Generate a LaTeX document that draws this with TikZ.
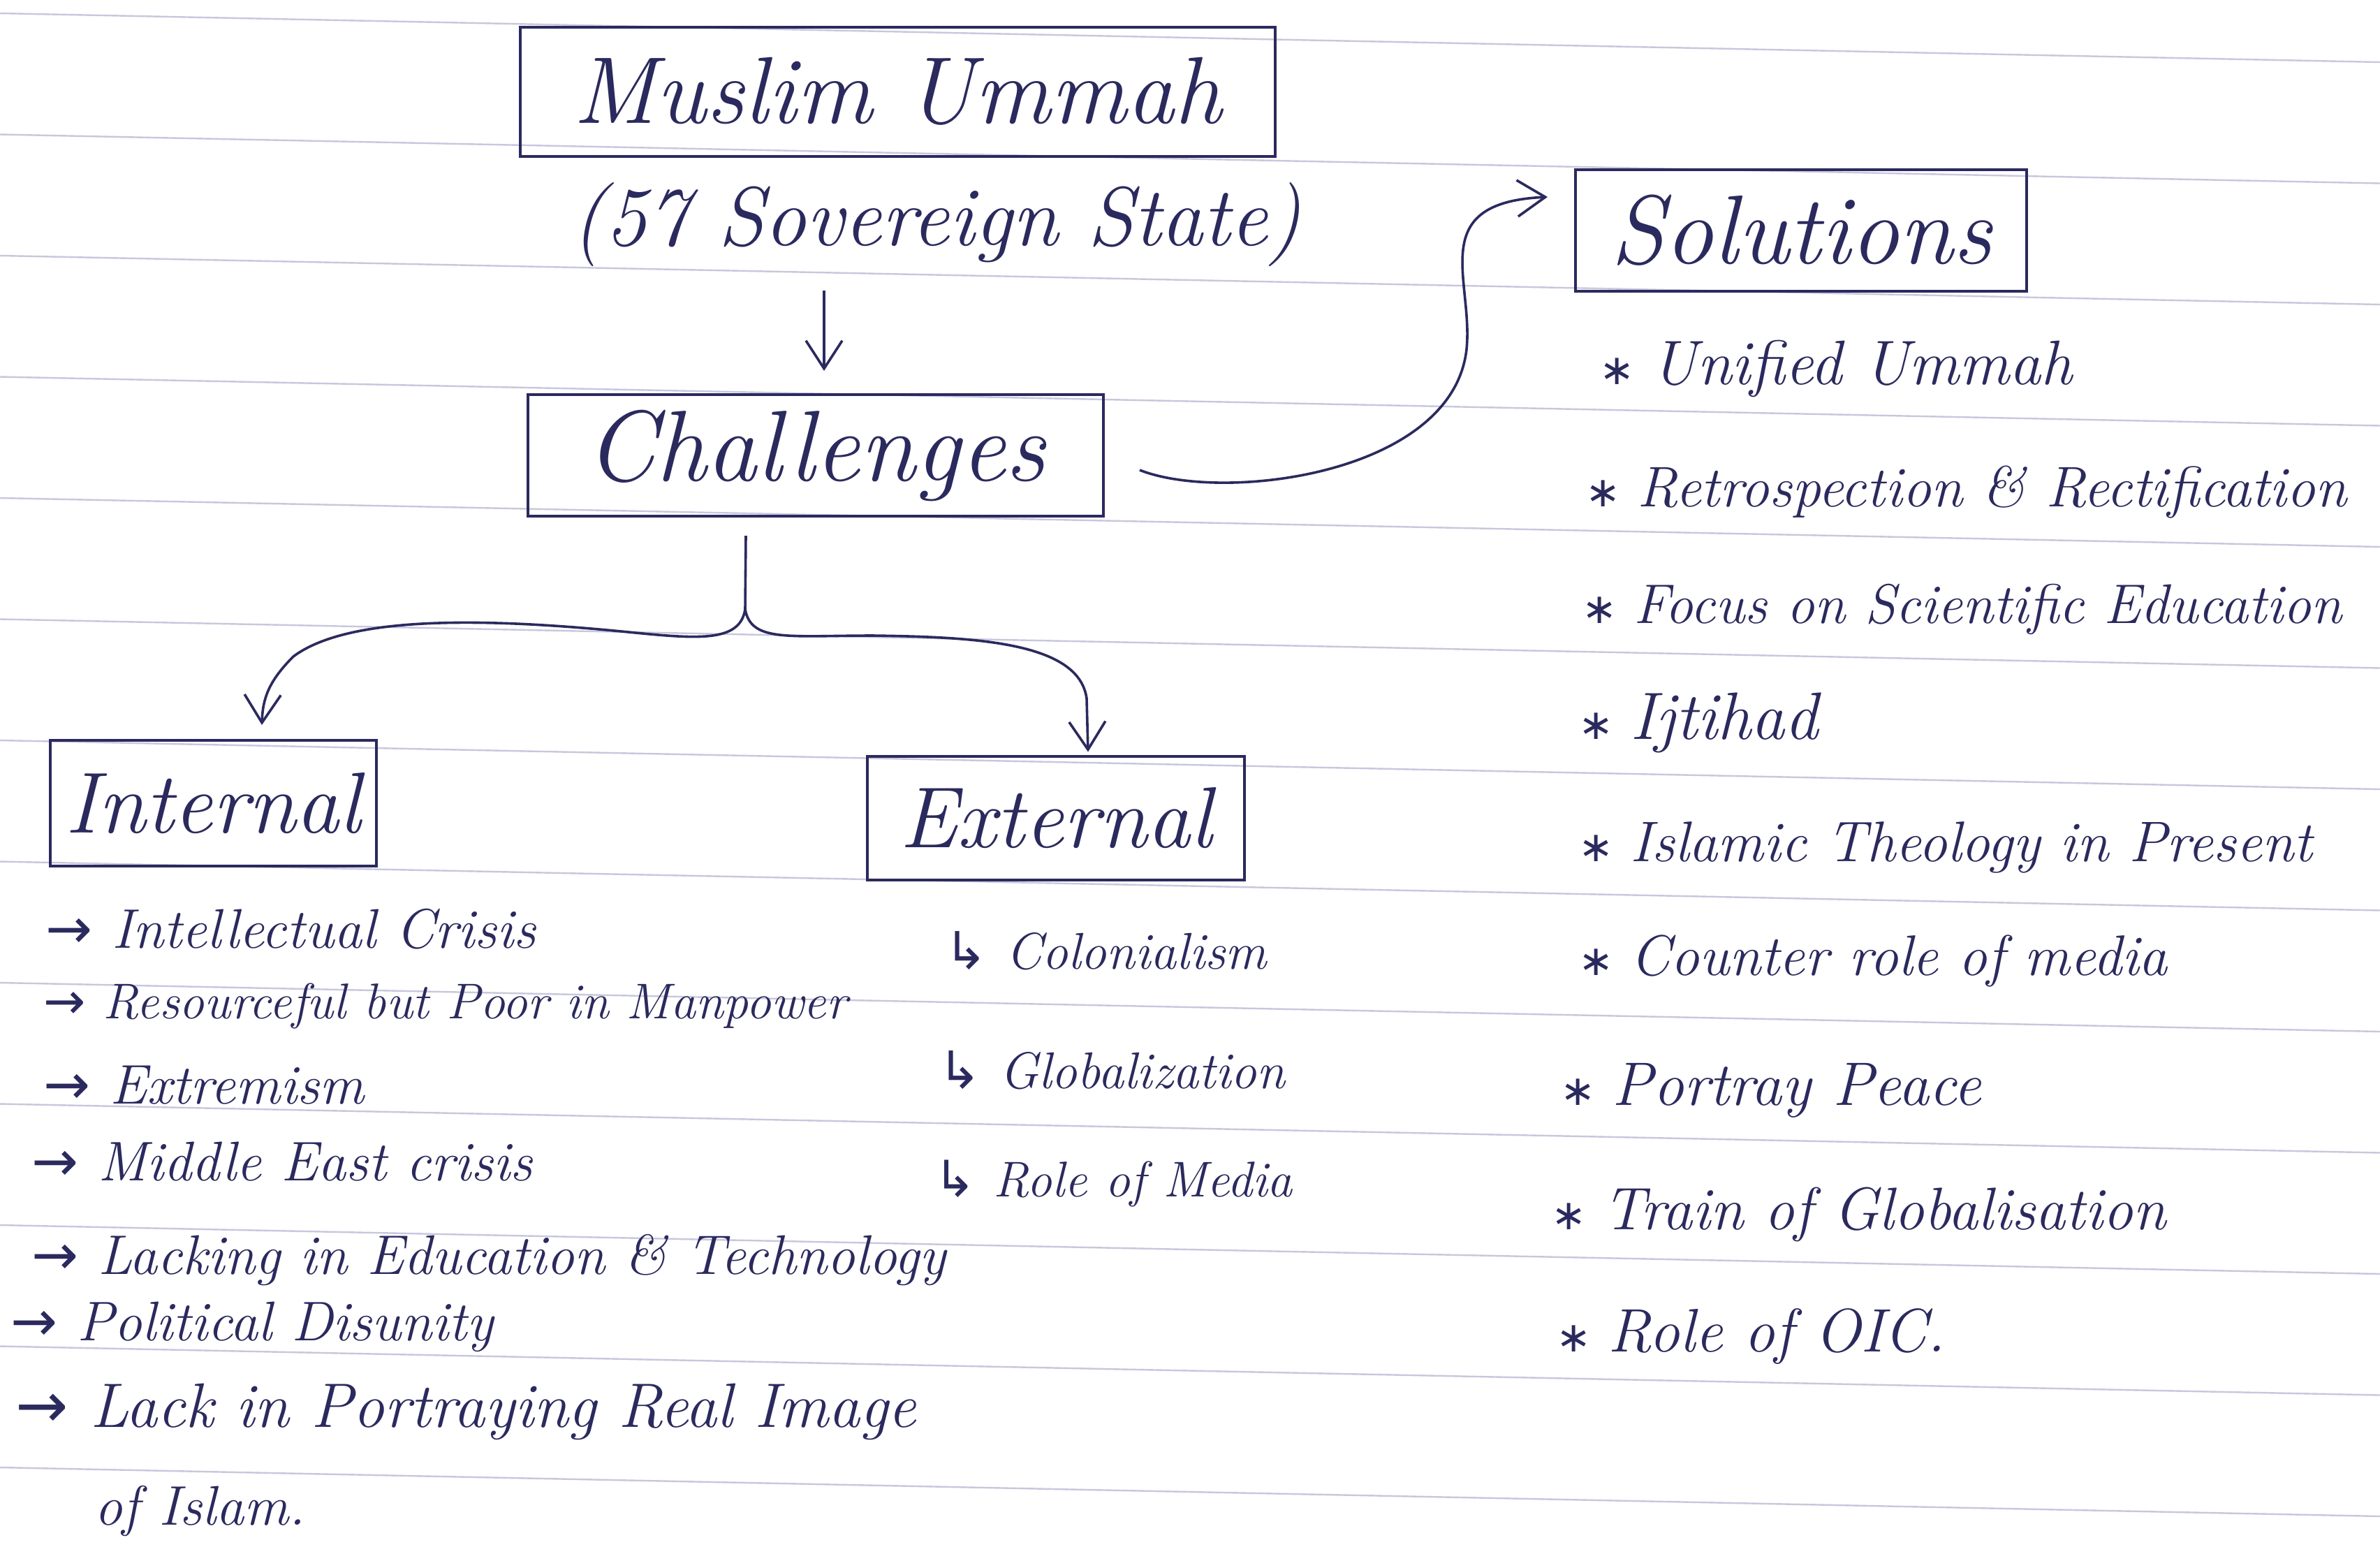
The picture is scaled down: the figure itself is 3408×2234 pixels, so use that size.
\documentclass[tikz,border=0pt]{standalone}
\usepackage{fontspec}
\setmainfont{Latin Modern Roman}
\newfontfamily\symfont{DejaVu Sans}
\usetikzlibrary{arrows.meta}
\definecolor{ink}{HTML}{2B2A5E}
\definecolor{ruling}{HTML}{C9C7DE}
\newcommand{\fsz}[1]{\fontsize{#1}{#1}\selectfont}
\newcommand{\sbul}{{\symfont\fsz{30}∗}\hspace{12pt}}
\begin{document}
\begin{tikzpicture}[x=0.5pt,y=-0.5pt,
  every node/.style={text=ink, inner sep=0pt},
  box/.style={draw=ink, line width=2pt, inner sep=0pt},
  arr/.style={draw=ink, line width=1.8pt, -{Straight Barb[length=20pt,width=26pt,line width=1.8pt]}},
  ink line/.style={draw=ink, line width=1.8pt},
  initem/.style={anchor=west, font=\itshape\fsz{40}},
  exitem/.style={anchor=west, font=\itshape\fsz{37}},
  soitem/.style={anchor=west, font=\itshape\fsz{41}}
]
\useasboundingbox (0,0) rectangle (3408,2234);
\fill[white] (0,0) rectangle (3408,2234);
% ruled notebook lines
\foreach \k in {0,...,12}{
  \draw[ruling, line width=1.2pt] (0,{19+173.5*\k}) -- (3408,{89+173.5*\k});
}
% main boxes
\node[box, minimum width=540.5pt, minimum height=92.5pt, font=\itshape\fsz{68}] (mu) at (1285,131) {Muslim Ummah};
\node[font=\itshape\fsz{60}] (sub) at (1341,322) {(57 Sovereign State)};
\node[box, minimum width=412pt, minimum height=87pt, font=\itshape\fsz{72}] (chal) at (1168,652) {Challenges};
\node[box, minimum width=323pt, minimum height=87pt, font=\itshape\fsz{70}] (sol) at (2579,330) {Solutions};
\node[box, minimum width=233.5pt, minimum height=90pt, font=\itshape\fsz{62}] (int) at (305,1150) {Internal};
\node[box, minimum width=270pt, minimum height=88.5pt, font=\itshape\fsz{62}] (ext) at (1512,1171) {External};
% connectors
\draw[arr, shorten <=17pt, shorten >=16pt] ([xshift=6pt]chal.north |- sub.south) -- ([xshift=6pt]chal.north);
\coordinate (j) at (1067,872);
\draw[ink line] ([xshift=-50pt,yshift=-13pt]chal.south) -- (j);
\draw[arr] (j) .. controls (1060,920) and (1000,915) .. (900,905)
  .. controls (700,885) and (500,880) .. (420,940)
  .. controls (385,975) and (376,1000) .. ([xshift=35pt,yshift=10pt]int.north);
\draw[arr] (j) .. controls (1075,920) and (1130,910) .. (1250,910)
  .. controls (1400,912) and (1545,920) .. (1556,1000)
  -- ([xshift=23pt,yshift=2pt]ext.north);
\draw[arr] ([xshift=25pt,yshift=-10.5pt]chal.east) .. controls (1750,720) and (2080,680) .. (2100,500)
  .. controls (2110,400) and (2040,290) .. ([xshift=-19pt,yshift=24pt]sol.west);
% internal items
\node[initem] (i1) at (65,1330) {{\symfont →}~Intellectual Crisis};
\node[initem, font=\itshape\fsz{36}] (i2) at (62,1440) {{\symfont →}~Resourceful but Poor in Manpower};
\node[initem] (i3) at (62,1554) {{\symfont →}~Extremism};
\node[initem] (i4) at (45,1663) {{\symfont →}~Middle East crisis};
\node[initem] (i5) at (45,1804) {{\symfont →}~Lacking in Education \& Technology};
\node[initem] (i6) at (15,1900) {{\symfont →}~Political Disunity};
\node[initem, font=\itshape\fsz{45}] (i7) at (22,2021) {{\symfont →}~Lack in Portraying Real Image};
\node[initem] (i8) at (135,2163) {of Islam.};
% external items
\node[exitem] (e1) at (1352,1361) {{\symfont ↳}~Colonialism};
\node[exitem] (e2) at (1343,1532) {{\symfont ↳}~Globalization};
\node[exitem, font=\itshape\fsz{36}] (e3) at (1337,1695) {{\symfont ↳}~Role of Media};
% solutions
\node[soitem, font=\itshape\fsz{45}] (s1) at (2290,528) {\sbul Unified Ummah};
\node[soitem] (s2) at (2270,705) {\sbul Retrospection \& Rectification};
\node[soitem, font=\itshape\fsz{40}] (s3) at (2265,872) {\sbul Focus on Scientific Education};
\node[soitem, font=\itshape\fsz{48}] (s4) at (2260,1035) {\sbul Ijtihad};
\node[soitem] (s5) at (2260,1213) {\sbul Islamic Theology in Present};
\node[soitem] (s6) at (2260,1376) {\sbul Counter role of media};
\node[soitem, font=\itshape\fsz{44}] (s7) at (2234,1561) {\sbul Portray Peace};
\node[soitem, font=\itshape\fsz{43}] (s8) at (2221,1739) {\sbul Train of Globalisation};
\node[soitem, font=\itshape\fsz{44}] (s9) at (2228,1913) {\sbul Role of OIC.};
\end{tikzpicture}
\end{document}
